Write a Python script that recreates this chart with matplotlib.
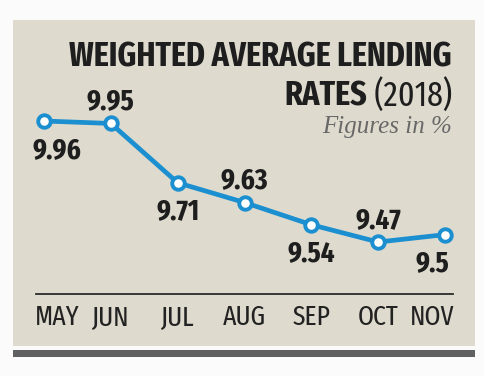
import matplotlib
matplotlib.use("Agg")
import matplotlib.pyplot as plt
from matplotlib.patches import Rectangle
from matplotlib.transforms import ScaledTranslation

months = ["MAY", "JUN", "JUL", "AUG", "SEP", "OCT", "NOV"]
rates = [9.96, 9.95, 9.71, 9.63, 9.54, 9.47, 9.5]
label_pos = ["below", "above", "below", "above", "below", "above", "below"]
title_line1 = "WEIGHTED AVERAGE LENDING"
title_line2_bold = "RATES"
title_line2_reg = " (2018)"
subtitle = "Figures in %"

cond = "Fira Sans Extra Condensed"
serif = "Liberation Serif"

W, H = 484, 376
fig = plt.figure(figsize=(W / 100, H / 100), dpi=100)
fig.patch.set_facecolor("#fbfbfb")

def fx(px):
    return px / W

def fy(py):
    return 1 - py / H

# panel and bottom bar
fig.patches.append(Rectangle((fx(13), fy(346)), fx(475) - fx(13), fy(20) - fy(346),
                             transform=fig.transFigure, facecolor="#dedbce", edgecolor="none", zorder=-5))
fig.patches.append(Rectangle((fx(13), fy(357)), fx(475) - fx(13), fy(350) - fy(357),
                             transform=fig.transFigure, facecolor="#5f6062", edgecolor="none", zorder=-5))

ax_l, ax_r, ax_t, ax_b = 36, 453, 100, 294
ax = fig.add_axes([fx(ax_l), fy(ax_b), fx(ax_r) - fx(ax_l), fy(ax_t) - fy(ax_b)])
ax.set_facecolor("none")
px_per_x = (445 - 44) / 6
ax.set_xlim((ax_l - 44) / px_per_x, (ax_r - 44) / px_per_x)
ppu = 247.0
ax.set_ylim(9.96 - (ax_b - 121) / ppu, 9.96 + (121 - ax_t) / ppu)

x = list(range(len(months)))
ax.plot(x, rates, color="#1b8fd0", lw=3.4, marker="o", ms=9, mfc="white",
        mec="#1b8fd0", mew=2.8, clip_on=False, zorder=3)

for s in ["top", "left", "right"]:
    ax.spines[s].set_visible(False)
ax.spines["bottom"].set_color("#2a2a2a")
ax.spines["bottom"].set_linewidth(1.3)
ax.set_yticks([])
ax.set_xticks(x)
ax.set_xticklabels(months, fontfamily=cond, fontsize=20, color="#222222")
ax.tick_params(axis="x", length=0, pad=7)
# first and last labels sit inward of their points in the reference
lbls = ax.get_xticklabels()
lbls[0].set_transform(lbls[0].get_transform() + ScaledTranslation(13 / 100, 0, fig.dpi_scale_trans))
lbls[-1].set_transform(lbls[-1].get_transform() + ScaledTranslation(-13 / 100, 0, fig.dpi_scale_trans))

for i, (v, p) in enumerate(zip(rates, label_pos)):
    dx = 0
    if i == 0:
        dx = 13
    if i == 6:
        dx = -13
    dy = -29 if p == "below" else 22
    ax.annotate(f"{v:g}", (i, v), xytext=(dx * 0.72, dy * 0.72), textcoords="offset points",
                ha="center", va="center", fontfamily=cond, fontweight="bold",
                fontsize=21, color="#1e1e1e", zorder=4)

fig.text(fx(452), fy(57), title_line1, ha="right", va="center", fontfamily=cond,
         fontweight="bold", fontsize=25, color="#1e1e1e")
t2 = fig.text(fx(452), fy(96), title_line2_reg, ha="right", va="center", fontfamily=cond,
              fontsize=25, color="#1e1e1e")
fig.canvas.draw()
bb = t2.get_window_extent()
fig.text(bb.x0 / W, fy(96), title_line2_bold, ha="right", va="center", fontfamily=cond,
         fontweight="bold", fontsize=25, color="#1e1e1e")
fig.text(fx(452), fy(127), subtitle, ha="right", va="center", fontfamily=serif,
         fontstyle="italic", fontsize=18, color="#686868")

fig.savefig("out.png", dpi=100, facecolor=fig.get_facecolor())
